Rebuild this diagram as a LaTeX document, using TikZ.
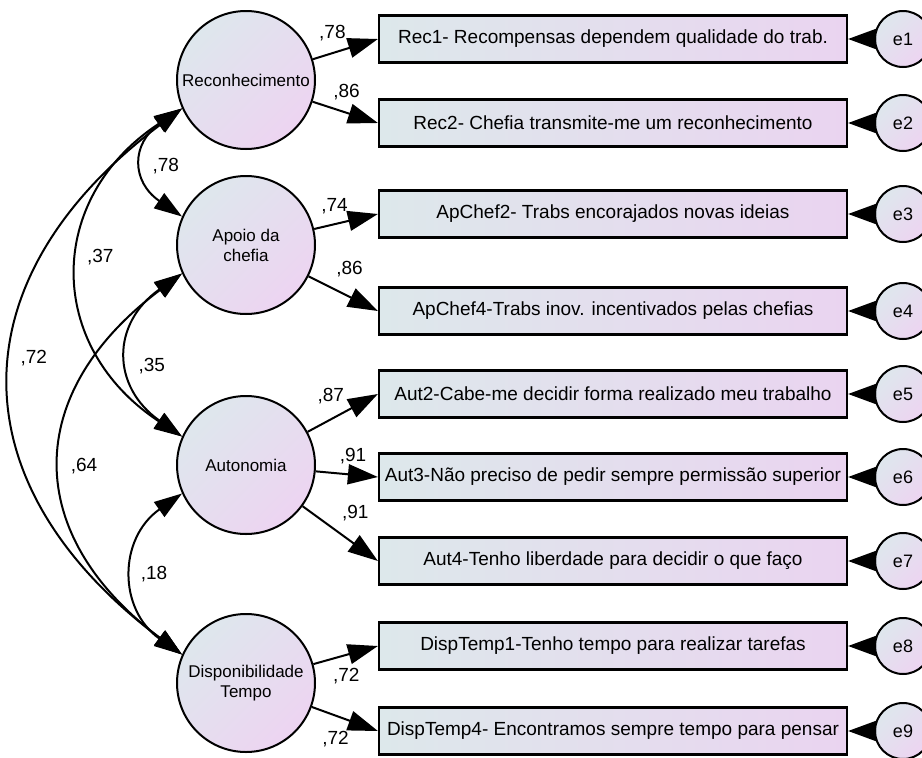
\documentclass[tikz,border=0pt]{standalone}
\usepackage{fontspec}
\setmainfont{Liberation Sans}
\usepackage{tikz}
\usetikzlibrary{arrows.meta, positioning}

\definecolor{boxleft}{RGB}{221,232,235}
\definecolor{boxright}{RGB}{234,212,240}
\definecolor{circtop}{RGB}{222,231,237}
\definecolor{circbot}{RGB}{237,212,241}

\begin{document}
\begin{tikzpicture}[
      x=1pt, y=1pt,
      latent/.style={circle, draw, line width=2pt, minimum size=138pt, inner sep=0pt, align=center,
        top color=circtop, bottom color=circbot, shading angle=45, font=\fontsize{17}{20}\selectfont},
      indic/.style={rectangle, draw, line width=2.2pt, minimum width=468pt, minimum height=47pt, inner sep=0pt,
        left color=boxleft, right color=boxright, font=\fontsize{19}{22}\selectfont},
      err/.style={circle, draw, line width=2pt, minimum size=56pt, inner sep=0pt,
        top color=circtop, bottom color=circbot, shading angle=45, font=\fontsize{18}{20}\selectfont},
      lbl/.style={inner sep=0pt, font=\fontsize{19}{21}\selectfont},
      load/.style={line width=2pt, -{Triangle[length=30pt, width=20pt]}},
      cov/.style={line width=2pt, {Triangle[length=28pt, width=18pt]}-{Triangle[length=28pt, width=18pt]}},
      resid/.style={line width=2pt, -{Triangle[length=28pt, width=20pt]}}
      ]
      \useasboundingbox (0,0) rectangle (922,-758);

      % Latent factors
      \node[latent] (rec) at (246,-80) {Reconhecimento};
      \node[latent, below of=rec, node distance=165pt] (apo) {Apoio da\\chefia};
      \node[latent, below of=apo, node distance=220pt] (aut) {Autonomia};
      \node[latent, below of=aut, node distance=218pt] (disp) {Disponibilidade\\Tempo};

      % Indicators
      \node[indic] (rec1) at (613,-39) {Rec1- Recompensas dependem qualidade do trab.};
      \node[indic, below of=rec1, node distance=84pt] (rec2) {Rec2- Chefia transmite-me um reconhecimento};
      \node[indic, below of=rec2, node distance=91pt] (apc2) {ApChef2- Trabs encorajados novas ideias};
      \node[indic, below of=apc2, node distance=97pt] (apc4) {ApChef4-Trabs inov. incentivados pelas chefias};
      \node[indic, below of=apc4, node distance=83pt] (aut2) {Aut2-Cabe-me decidir forma realizado meu trabalho};
      \node[indic, below of=aut2, node distance=83pt] (aut3) {Aut3-Não preciso de pedir sempre permissão superior};
      \node[indic, below of=aut3, node distance=84pt] (aut4) {Aut4-Tenho liberdade para decidir o que faço};
      \node[indic, below of=aut4, node distance=85pt] (dt1) {DispTemp1-Tenho tempo para realizar tarefas};
      \node[indic, below of=dt1, node distance=85pt] (dt4) {DispTemp4- Encontramos sempre tempo para pensar};

      % Errors
      \node[err, right of=rec1, node distance=290pt] (e1) {e1};
      \node[err, right of=rec2, node distance=290pt] (e2) {e2};
      \node[err, right of=apc2, node distance=290pt] (e3) {e3};
      \node[err, right of=apc4, node distance=290pt] (e4) {e4};
      \node[err, right of=aut2, node distance=290pt] (e5) {e5};
      \node[err, right of=aut3, node distance=290pt] (e6) {e6};
      \node[err, right of=aut4, node distance=290pt] (e7) {e7};
      \node[err, right of=dt1, node distance=290pt] (e8) {e8};
      \node[err, right of=dt4, node distance=290pt] (e9) {e9};

      % Loadings
      \draw[load] (rec) -- node[lbl, pos=0.3, yshift=20pt] {,78} (rec1.west);
      \draw[load] (rec) -- node[lbl, pos=0.52, yshift=21pt] {,86} (rec2.west);
      \draw[load] (apo) -- node[lbl, pos=0.32, yshift=18pt] {,74} (apc2.west);
      \draw[load] (apo) -- node[lbl, pos=0.59, yshift=28pt] {,86} (apc4.west);
      \draw[load] (aut) -- node[lbl, pos=0.33, yshift=23pt] {,87} (aut2.west);
      \draw[load] (aut) -- node[lbl, pos=0.6, yshift=19pt] {,91} (aut3.west);
      \draw[load] (aut) -- node[lbl, pos=0.5, xshift=15pt, yshift=21pt] {,91} (aut4.west);
      \draw[load] (disp) -- node[lbl, pos=0.51, yshift=-21pt] {,72} (dt1.west);
      \draw[load] (disp) -- node[lbl, pos=0.36, yshift=-23pt] {,72} (dt4.west);

      % Residuals
      \draw[resid] (e1) -- (rec1.east);
      \draw[resid] (e2) -- (rec2.east);
      \draw[resid] (e3) -- (apc2.east);
      \draw[resid] (e4) -- (apc4.east);
      \draw[resid] (e5) -- (aut2.east);
      \draw[resid] (e6) -- (aut3.east);
      \draw[resid] (e7) -- (aut4.east);
      \draw[resid] (e8) -- (dt1.east);
      \draw[resid] (e9) -- (dt4.east);

      % Covariances
      \draw[cov] (rec.204) .. controls +(-51,-35) and +(-51,35) .. (apo.156) node[lbl, midway, xshift=22pt, yshift=-4pt] {,78};
      \draw[cov] (rec.204) .. controls +(-137,-90) and +(-137,90) .. (aut.156) node[lbl, midway, xshift=21pt, yshift=15pt] {,37};
      \draw[cov] (rec.204) .. controls +(-227,-170) and +(-227,170) .. (disp.156) node[lbl, midway, xshift=22pt, yshift=23pt] {,72};
      \draw[cov] (apo.204) .. controls +(-71,-50) and +(-71,50) .. (aut.156) node[lbl, midway, xshift=23pt, yshift=-11pt] {,35};
      \draw[cov] (apo.204) .. controls +(-160,-120) and +(-160,120) .. (disp.156) node[lbl, midway, xshift=22pt, yshift=-2pt] {,64};
      \draw[cov] (aut.204) .. controls +(-64,-45) and +(-64,45) .. (disp.156) node[lbl, midway, xshift=20pt] {,18};
    \end{tikzpicture}
\end{document}
